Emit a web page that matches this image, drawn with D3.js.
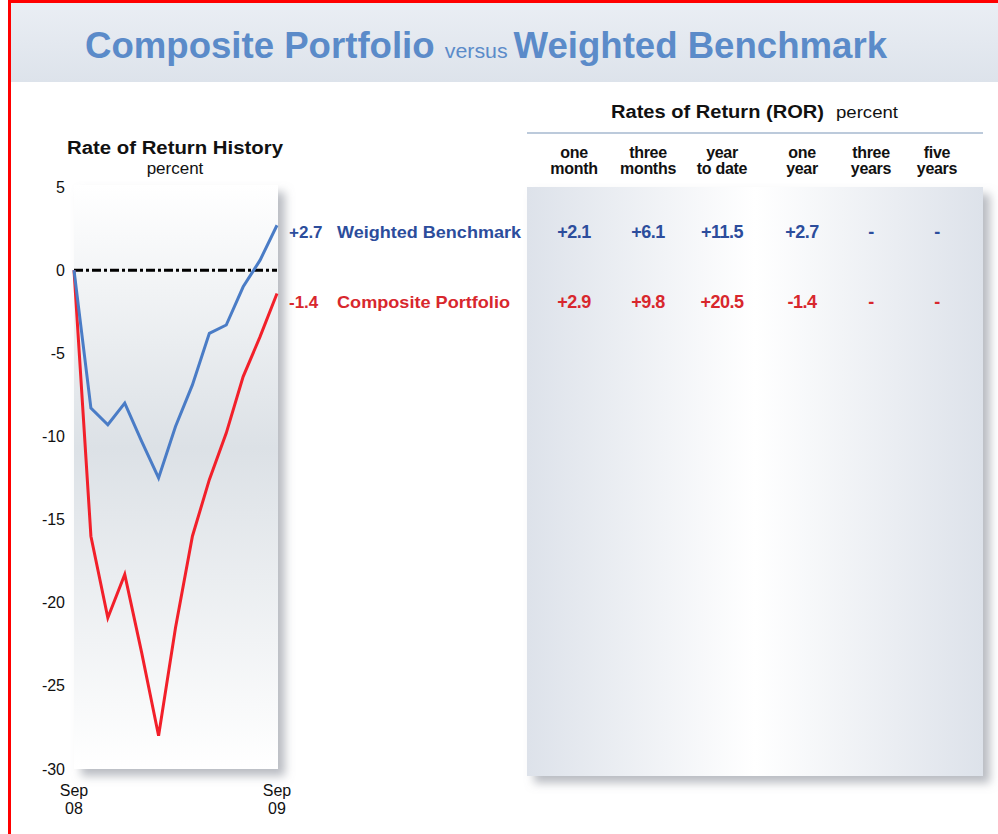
<!DOCTYPE html>
<html><head><meta charset="utf-8">
<script src="https://cdn.jsdelivr.net/npm/d3@7"></script>
<style>
html,body{margin:0;padding:0;background:#fff;}
svg{display:block;font-family:"Liberation Sans",Arial,Helvetica,sans-serif;}
</style></head>
<body>
<svg id="c" width="998" height="834"></svg>
<script>
// ---- data ----
const months = ["Sep 08","Oct 08","Nov 08","Dec 08","Jan 09","Feb 09","Mar 09","Apr 09","May 09","Jun 09","Jul 09","Aug 09","Sep 09"];
const benchmark = [0, -8.3, -9.3, -8.0, -10.3, -12.5, -9.4, -6.9, -3.8, -3.3, -1.0, 0.6, 2.7];
const composite = [0, -16.0, -20.9, -18.3, -23.0, -28.0, -21.5, -16.0, -12.6, -9.8, -6.4, -4.0, -1.4];
const yTicks = [5, 0, -5, -10, -15, -20, -25, -30];
const xTickLabels = [["Sep","08"],["Sep","09"]];
const seriesNames = ["Weighted Benchmark","Composite Portfolio"];
const seriesLast = ["+2.7","-1.4"];
const periodHeaders = [["one","month"],["three","months"],["year","to date"],["one","year"],["three","years"],["five","years"]];
const benchmarkROR = ["+2.1","+6.1","+11.5","+2.7","-","-"];
const compositeROR = ["+2.9","+9.8","+20.5","-1.4","-","-"];

const svg = d3.select("#c");
const defs = svg.append("defs");

const hg = defs.append("linearGradient").attr("id","hdr").attr("x1",0).attr("y1",0).attr("x2",0).attr("y2",1);
hg.append("stop").attr("offset","0%").attr("stop-color","#eaeef4");
hg.append("stop").attr("offset","100%").attr("stop-color","#dde3eb");

const pg = defs.append("linearGradient").attr("id","plotbg").attr("x1",0).attr("y1",0).attr("x2",0).attr("y2",1);
pg.append("stop").attr("offset","0%").attr("stop-color","#ffffff");
pg.append("stop").attr("offset","45%").attr("stop-color","#dce1e6");
pg.append("stop").attr("offset","100%").attr("stop-color","#ffffff");

const tg = defs.append("linearGradient").attr("id","tblbg").attr("x1",0).attr("y1",0).attr("x2",1).attr("y2",0);
tg.append("stop").attr("offset","0%").attr("stop-color","#dde2ea");
tg.append("stop").attr("offset","50%").attr("stop-color","#ffffff");
tg.append("stop").attr("offset","100%").attr("stop-color","#dde2ea");

const sh = defs.append("filter").attr("id","shadow").attr("x","-10%").attr("y","-10%").attr("width","130%").attr("height","130%");
sh.append("feDropShadow").attr("dx",7).attr("dy",7).attr("stdDeviation",5).attr("flood-color","#8a8f99").attr("flood-opacity",0.6);

// header band
svg.append("rect").attr("x",10).attr("y",3).attr("width",988).attr("height",79).attr("fill","url(#hdr)");
// frame
svg.append("rect").attr("x",9.5).attr("y",1.5).attr("width",1100).attr("height",1000)
  .attr("fill","none").attr("stroke","#ff0000").attr("stroke-width",3);

// title
const title = svg.append("text").attr("x",85).attr("y",58)
  .attr("fill","#5b8bc9").attr("font-weight","bold").attr("font-size",36)
  .attr("textLength",802).attr("lengthAdjust","spacingAndGlyphs");
title.append("tspan").text("Composite Portfolio ");
title.append("tspan").attr("font-size",21).attr("font-weight","normal").text("versus ");
title.append("tspan").text("Weighted Benchmark");

// ---- line chart ----
const x0 = 74, x1 = 277;
const x = d3.scalePoint().domain(months).range([x0, x1]);
const y = d3.scaleLinear().domain([-30, 5]).range([769, 187]);

svg.append("rect").attr("x",x0).attr("y",185).attr("width",x1 - x0 + 1).attr("height",584)
  .attr("fill","url(#plotbg)").attr("filter","url(#shadow)");

svg.append("text").attr("x",175).attr("y",154).attr("text-anchor","middle")
  .attr("font-weight","bold").attr("font-size",18).attr("fill","#111")
  .attr("textLength",216).attr("lengthAdjust","spacingAndGlyphs").text("Rate of Return History");
svg.append("text").attr("x",175).attr("y",174).attr("text-anchor","middle")
  .attr("font-size",17).attr("fill","#111").text("percent");

const yAxis = svg.append("g").attr("transform",`translate(${x0 - 9},0)`)
  .call(d3.axisLeft(y).tickValues(yTicks).tickSize(0).tickPadding(0).tickFormat(d => String(d)));
yAxis.select(".domain").remove();
yAxis.selectAll("text").attr("font-size",16).attr("fill","#111").attr("font-family","'Liberation Sans',Arial,sans-serif");

// zero line
svg.append("line").attr("x1",x0).attr("x2",x1).attr("y1",y(0)).attr("y2",y(0))
  .attr("stroke","#000").attr("stroke-width",3).attr("stroke-dasharray","9,3,3,3");

const line = d3.line().x((d,i)=>x(months[i])).y(d=>y(d));
svg.append("path").datum(composite).attr("d",line).attr("fill","none")
  .attr("stroke","#f2202a").attr("stroke-width",3);
svg.append("path").datum(benchmark).attr("d",line).attr("fill","none")
  .attr("stroke","#4a7cc6").attr("stroke-width",3);

// x labels
[months[0], months[months.length-1]].forEach((m,i)=>{
  const t = svg.append("text").attr("text-anchor","middle").attr("font-size",16).attr("fill","#111");
  t.append("tspan").attr("x",x(m)).attr("y",796).text(xTickLabels[i][0]);
  t.append("tspan").attr("x",x(m)).attr("y",814).text(xTickLabels[i][1]);
});

// series labels
const lblColors = ["#2c4d9c","#d8272d"];
const lblY = [238, 308];
seriesNames.forEach((n,i)=>{
  svg.append("text").attr("x",289).attr("y",lblY[i]).attr("font-size",17).attr("font-weight","bold")
    .attr("fill",lblColors[i]).text(seriesLast[i]);
  svg.append("text").attr("x",337).attr("y",lblY[i]).attr("font-size",17).attr("font-weight","bold")
    .attr("fill",lblColors[i]).attr("textLength", i === 0 ? 184 : 173).attr("lengthAdjust","spacingAndGlyphs").text(n);
});

// ---- ROR table ----
const tx0 = 527, tx1 = 983;
svg.append("rect").attr("x",tx0).attr("y",187).attr("width",tx1 - tx0).attr("height",589)
  .attr("fill","url(#tblbg)").attr("filter","url(#shadow)");

svg.append("text").attr("x",611).attr("y",118).attr("font-size",18).attr("font-weight","bold").attr("fill","#111")
  .attr("textLength",213).attr("lengthAdjust","spacingAndGlyphs").text("Rates of Return (ROR)");
svg.append("text").attr("x",836).attr("y",118).attr("font-size",16).attr("fill","#111")
  .attr("textLength",62).attr("lengthAdjust","spacingAndGlyphs").text("percent");

svg.append("line").attr("x1",tx0).attr("x2",tx1).attr("y1",133).attr("y2",133)
  .attr("stroke","#bccadb").attr("stroke-width",2);

const colPos = [574, 648, 722, 802, 871, 937];
periodHeaders.forEach((h,i)=>{
  const t = svg.append("text").attr("text-anchor","middle").attr("font-size",16).attr("font-weight","bold").attr("fill","#111")
    .attr("letter-spacing",-0.3);
  t.append("tspan").attr("x",colPos[i]).attr("y",158).text(h[0]);
  t.append("tspan").attr("x",colPos[i]).attr("y",174).text(h[1]);
});
[benchmarkROR, compositeROR].forEach((row,r)=>{
  row.forEach((v,i)=>{
    svg.append("text").attr("x",colPos[i]).attr("y",lblY[r]).attr("text-anchor","middle")
      .attr("font-size",18).attr("font-weight","bold").attr("letter-spacing",-0.5).attr("fill",lblColors[r]).text(v);
  });
});
</script>
</body></html>
